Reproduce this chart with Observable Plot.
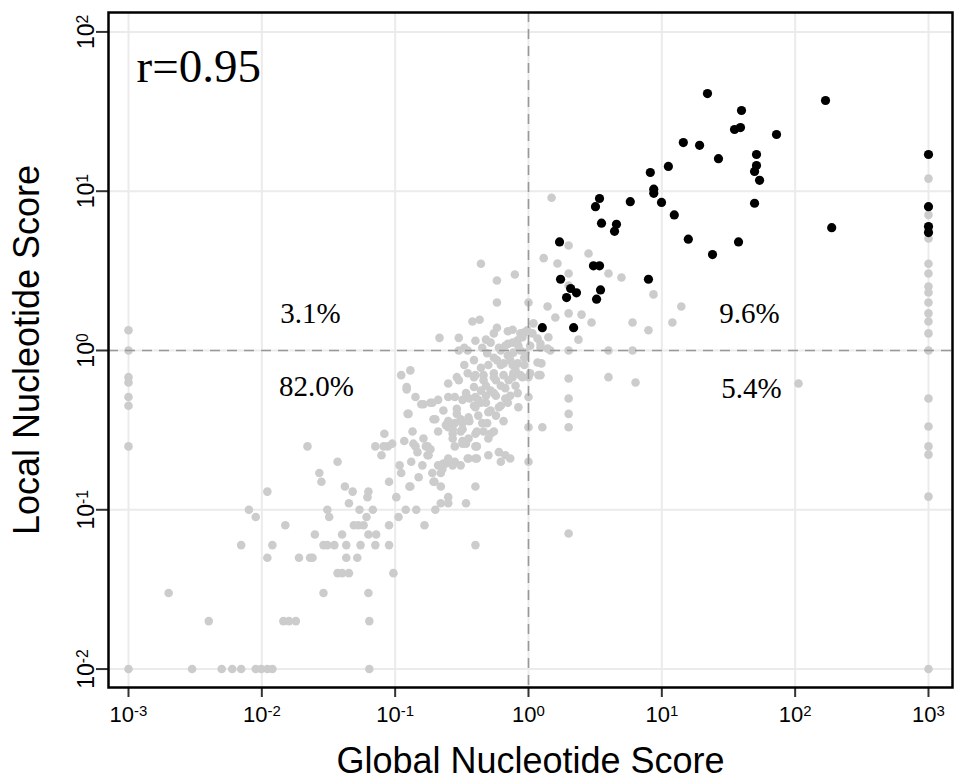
<!DOCTYPE html>
<html>
<head>
<meta charset="utf-8">
<script src="https://cdn.jsdelivr.net/npm/d3@7"></script>
<script src="https://cdn.jsdelivr.net/npm/@observablehq/plot@0.6"></script>
<style>
  html, body { margin: 0; padding: 0; background: #fff; }
  #chart svg { display: block; }
</style>
</head>
<body>
<div id="chart"></div>
<script>
// Tick positions (decades)
const xTicks = [1e-3, 1e-2, 1e-1, 1, 10, 100, 1000];
const yTicks = [1e-2, 1e-1, 1, 10, 100];

// Annotation texts
const corrLabel = ["r=0.95"];
const quadLabels = ["3.1%", "82.0%", "9.6%", "5.4%"];
const quadGlobal = [0.0232, 0.0257, 45.4, 47.0];
const quadLocal = [1.71, 0.594, 1.71, 0.577];
const xTitle = ["Global Nucleotide Score"];
const yTitle = ["Local Nucleotide Score"];

// Highlighted (black) points: [global, local]
const blackPoints = [
  [22.0, 41.0], [169, 37.1], [39.6, 32.1], [35.1, 24.4], [38.9, 25.1], [72.5, 22.7],
  [14.5, 20.2], [19.2, 19.4], [26.6, 16.0], [51.3, 17.0], [51.3, 14.5], [49.6, 13.3],
  [54.1, 11.7], [11.2, 14.3], [8.2, 13.1], [8.7, 10.3], [8.7, 9.7], [9.95, 8.5],
  [5.8, 8.6], [3.41, 9.0], [3.18, 8.0], [12.4, 7.1], [3.53, 6.3], [4.57, 6.2],
  [4.42, 5.6], [15.8, 5.0], [37.6, 4.8], [24.0, 4.0], [49.6, 8.4], [188, 5.9],
  [1000, 17.0], [1000, 8.0], [1000, 6.0], [1000, 5.5], [1.71, 4.8], [3.07, 3.4],
  [3.41, 3.4], [1.74, 2.8], [7.94, 2.8], [2.07, 2.45], [2.29, 2.3], [1.93, 2.15],
  [3.47, 2.4], [3.24, 2.1], [1.27, 1.39], [2.18, 1.39]
];

// Grey points at the lower global bound
const greyLeftColumn = [
  [0.001, 1.34], [0.001, 1.0], [0.001, 0.68], [0.001, 0.63], [0.001, 0.51],
  [0.001, 0.45], [0.001, 0.25], [0.001, 0.01]
];
// Grey points at the lower local bound
const greyBottomRow = [
  [0.003, 0.01], [0.005, 0.01], [0.006, 0.01], [0.007, 0.01], [0.009, 0.01],
  [0.0099, 0.01], [0.011, 0.01], [0.012, 0.01], [0.064, 0.01]
];
// Grey points at the upper global bound
const greyRightColumn = [
  [1000, 12.0], [1000, 7.1], [1000, 5.05], [1000, 3.5], [1000, 3.04], [1000, 2.52],
  [1000, 2.31], [1000, 2.0], [1000, 1.71], [1000, 1.52], [1000, 1.28], [1000, 1.0],
  [1000, 0.5], [1000, 0.333], [1000, 0.25], [1000, 0.222], [1000, 0.121], [1000, 0.01]
];
// Grey points, lower-left spread
const greyLowerLeft = [
  [0.002, 0.03], [0.004, 0.02], [0.007, 0.06], [0.008, 0.1], [0.009, 0.09], [0.011, 0.13],
  [0.012, 0.06], [0.011, 0.05], [0.015, 0.08], [0.0145, 0.02], [0.016, 0.02], [0.018, 0.02],
  [0.019, 0.05], [0.022, 0.25], [0.023, 0.05], [0.024, 0.05], [0.025, 0.07], [0.027, 0.17],
  [0.028, 0.15], [0.029, 0.03], [0.029, 0.06], [0.031, 0.06], [0.031, 0.1], [0.032, 0.09],
  [0.035, 0.06], [0.037, 0.2], [0.037, 0.04], [0.040, 0.04], [0.045, 0.04], [0.040, 0.07],
  [0.042, 0.14], [0.043, 0.06], [0.043, 0.05], [0.045, 0.11], [0.048, 0.13], [0.049, 0.08],
  [0.053, 0.08], [0.058, 0.08], [0.052, 0.05], [0.054, 0.1], [0.055, 0.06], [0.061, 0.09],
  [0.062, 0.12], [0.063, 0.13], [0.063, 0.03], [0.064, 0.02], [0.063, 0.07], [0.072, 0.07],
  [0.068, 0.1], [0.071, 0.06], [0.071, 0.25], [0.079, 0.22], [0.083, 0.30], [0.088, 0.25],
  [0.095, 0.26], [0.09, 0.08], [0.09, 0.06], [0.09, 0.15], [0.097, 0.04], [0.082, 0.25]
];
// Grey points, main cloud (global 0.1 .. 1)
const greyCloud = [
  [0.102, 0.12], [0.106, 0.09], [0.108, 0.19], [0.111, 0.17], [0.117, 0.27], [0.12, 0.1],
  [0.122, 0.59], [0.126, 0.40], [0.13, 0.14], [0.132, 0.2], [0.135, 0.31], [0.137, 0.26],
  [0.144, 0.1], [0.147, 0.23], [0.15, 0.16], [0.142, 0.51], [0.163, 0.46], [0.16, 0.19],
  [0.163, 0.28], [0.175, 0.25], [0.166, 0.08], [0.178, 0.22], [0.184, 0.47], [0.194, 0.37],
  [0.197, 0.15], [0.21, 0.19], [0.20, 0.1], [0.21, 0.31], [0.22, 0.14], [0.226, 0.18],
  [0.22, 0.11], [0.23, 0.42], [0.24, 0.195], [0.25, 0.51], [0.25, 0.12], [0.25, 0.11],
  [0.25, 0.33], [0.27, 0.19], [0.27, 0.30], [0.28, 0.35], [0.29, 0.40], [0.31, 0.19],
  [0.32, 0.49], [0.32, 0.26], [0.32, 0.35], [0.34, 0.54], [0.34, 0.11], [0.35, 0.21],
  [0.355, 0.28], [0.355, 0.38], [0.39, 0.59], [0.40, 0.44], [0.40, 0.25], [0.40, 0.21],
  [0.40, 0.14], [0.40, 0.06], [0.41, 0.31],
  [0.111, 0.70], [0.13, 0.75], [0.122, 0.57], [0.157, 0.46], [0.19, 0.47], [0.21, 0.49],
  [0.25, 0.62], [0.124, 0.40], [0.20, 0.37], [0.24, 0.34], [0.142, 0.25], [0.17, 0.25],
  [0.175, 0.22], [0.184, 0.24], [0.23, 0.195], [0.19, 0.17], [0.22, 0.17], [0.128, 0.14],
  [0.194, 0.15], [0.215, 1.2],
  [0.44, 3.5], [0.79, 3.0], [0.58, 2.75], [0.58, 2.0], [0.38, 1.52], [0.43, 1.56],
  [0.58, 1.39], [0.30, 1.2], [0.48, 1.17], [0.55, 1.28], [0.70, 1.32], [0.76, 1.35],
  [0.87, 1.28], [0.93, 1.3], [0.33, 1.04], [0.30, 1.0], [0.35, 1.0], [0.45, 1.04],
  [0.52, 1.12], [0.60, 1.04], [0.70, 1.1], [0.76, 1.12], [0.83, 1.16], [0.49, 0.96],
  [0.55, 0.90], [0.62, 1.0], [0.70, 0.93], [0.77, 0.97], [0.87, 1.0], [0.93, 0.90],
  [0.39, 0.87], [0.33, 0.81], [0.44, 0.78], [0.50, 0.81], [0.58, 0.87], [0.65, 0.83],
  [0.73, 0.87], [0.83, 0.83], [0.93, 0.81], [0.29, 0.68], [0.35, 0.72], [0.39, 0.68],
  [0.46, 0.70], [0.55, 0.72], [0.65, 0.70], [0.77, 0.72], [0.90, 0.68],
  [0.30, 0.65], [0.40, 0.70], [0.46, 0.65], [0.55, 0.68], [0.76, 0.68], [0.87, 0.70],
  [0.28, 0.51], [0.40, 0.51], [0.48, 0.52], [0.55, 0.54], [0.67, 0.50], [0.83, 0.54],
  [0.29, 0.43], [0.39, 0.45], [0.44, 0.47], [0.52, 0.42], [0.60, 0.44], [0.70, 0.47],
  [0.84, 0.44], [0.25, 0.36], [0.31, 0.37], [0.42, 0.39], [0.49, 0.35], [0.57, 0.39],
  [0.65, 0.36], [0.27, 0.32], [0.32, 0.32], [0.40, 0.30], [0.46, 0.31], [0.52, 0.30],
  [0.27, 0.28], [0.32, 0.27], [0.41, 0.25], [0.50, 0.28], [0.55, 0.31], [0.34, 0.26],
  [0.28, 0.25], [0.355, 0.21], [0.41, 0.21], [0.50, 0.22], [0.60, 0.23], [0.67, 0.22],
  [0.73, 0.21], [0.62, 0.20], [0.25, 0.21], [0.28, 0.2],
  [0.62, 0.60], [0.71, 0.65], [0.80, 0.75], [0.52, 0.56], [0.48, 0.47], [0.57, 0.52],
  [0.67, 0.58], [0.76, 0.81], [0.95, 0.97], [0.62, 0.81], [0.57, 0.65], [0.44, 0.56],
  [0.36, 0.50], [0.48, 0.60], [0.80, 0.60], [0.73, 0.52], [0.42, 0.49], [0.50, 0.41],
  [0.62, 0.45], [0.31, 0.31], [0.36, 0.36], [0.45, 0.35], [1.03, 1.07], [0.84, 1.07],
  [0.67, 1.07], [0.40, 1.15]
];
// Grey points, global >= 1
const greyUpperRight = [
  [1.3, 3.8], [1.0, 2.0], [1.39, 1.89], [1.09, 1.48], [1.07, 1.28], [1.17, 1.19],
  [1.23, 1.04], [1.39, 1.03], [1.17, 0.84], [1.23, 0.70], [1.25, 0.83], [1.03, 0.72],
  [1.19, 0.70], [1.0, 0.68], [1.0, 0.51], [1.0, 0.33], [1.27, 0.33], [1.0, 0.2],
  [1.49, 9.1], [2.0, 4.56], [1.65, 3.52], [2.82, 4.06], [2.0, 3.04], [3.98, 3.04],
  [4.98, 2.87], [2.0, 2.56], [8.66, 2.25], [14.0, 1.89], [1.59, 1.61], [2.0, 1.71],
  [2.5, 1.68], [2.97, 1.5], [6.03, 1.5], [7.94, 1.34], [12.0, 1.5], [2.37, 1.17],
  [1.41, 1.21], [0.98, 1.34], [0.90, 1.21], [1.23, 1.1], [1.46, 1.0], [2.0, 1.0],
  [3.98, 1.0], [6.03, 1.0], [2.0, 0.667], [3.98, 0.68], [6.35, 0.63], [2.0, 0.5],
  [2.0, 0.40], [2.0, 0.33], [2.0, 0.071], [106, 0.62]
];

const greyPoints = [
  ...greyLeftColumn, ...greyBottomRow, ...greyRightColumn,
  ...greyLowerLeft, ...greyCloud, ...greyUpperRight
];

// tick label: "10" followed by the exponent; the exponent is raised afterwards
const powLabel = (v) => "10" + String(Math.round(Math.log10(v)));

const quadData = quadLabels.map((t, i) => ({t, x: quadGlobal[i], y: quadLocal[i]}));

const chart = Plot.plot({
  width: 955,
  height: 781,
  marginLeft: 108,
  marginRight: 3,
  marginTop: 12,
  marginBottom: 94,
  style: {fontFamily: "'Liberation Sans', Arial, sans-serif", background: "white", color: "black"},
  x: {type: "log", domain: [0.000708, 1514]},
  y: {type: "log", domain: [0.00766, 132.4]},
  marks: [
    Plot.gridX(xTicks, {stroke: "#ebebeb", strokeOpacity: 1, strokeWidth: 2}),
    Plot.gridY(yTicks, {stroke: "#ebebeb", strokeOpacity: 1, strokeWidth: 2}),
    Plot.dot(greyPoints, {x: (d) => d[0], y: (d) => d[1], r: 4.3, fill: "#cccccc", stroke: "none"}),
    Plot.ruleX([1], {stroke: "#999999", strokeWidth: 1.6, strokeDasharray: "10,7"}),
    Plot.ruleY([1], {stroke: "#999999", strokeWidth: 1.6, strokeDasharray: "10,7"}),
    Plot.dot(blackPoints, {x: (d) => d[0], y: (d) => d[1], r: 4.6, fill: "black", stroke: "none"}),
    Plot.axisX(xTicks, {tickSize: 10, tickPadding: 9, tickFormat: powLabel, fontSize: 22, label: null, strokeWidth: 2, stroke: "#333"}),
    Plot.axisY(yTicks, {tickSize: 12, tickPadding: 3, tickRotate: -90, tickFormat: powLabel, fontSize: 23, label: null, strokeWidth: 2, stroke: "#333"}),
    Plot.frame({stroke: "black", strokeWidth: 2.5}),
    Plot.text(corrLabel, {frameAnchor: "top-left", dx: 28, dy: 54, textAnchor: "start", lineAnchor: "middle", fontSize: 47, fontFamily: "'Liberation Serif', serif", fill: "black"}),
    Plot.text(quadData, {x: "x", y: "y", text: "t", fontSize: 29, fontFamily: "'Liberation Serif', serif", fill: "black"}),
    Plot.text(xTitle, {frameAnchor: "bottom", dy: 74, textAnchor: "middle", lineAnchor: "middle", fontSize: 36, fill: "black"}),
    Plot.text(yTitle, {frameAnchor: "left", dx: -81, rotate: -90, textAnchor: "middle", lineAnchor: "middle", fontSize: 36, fill: "black"})
  ]
});

// raise the exponent of each tick label as a superscript
const svgNS = "http://www.w3.org/2000/svg";
chart.querySelectorAll('g[aria-label="x-axis tick label"] text, g[aria-label="y-axis tick label"] text').forEach((t) => {
  const s = t.textContent;
  const exp = s.slice(2);
  t.textContent = "10";
  const ts = document.createElementNS(svgNS, "tspan");
  ts.setAttribute("dy", "-0.38em");
  ts.setAttribute("font-size", "0.68em");
  ts.textContent = exp;
  t.appendChild(ts);
});

document.getElementById("chart").appendChild(chart);
</script>
</body>
</html>
